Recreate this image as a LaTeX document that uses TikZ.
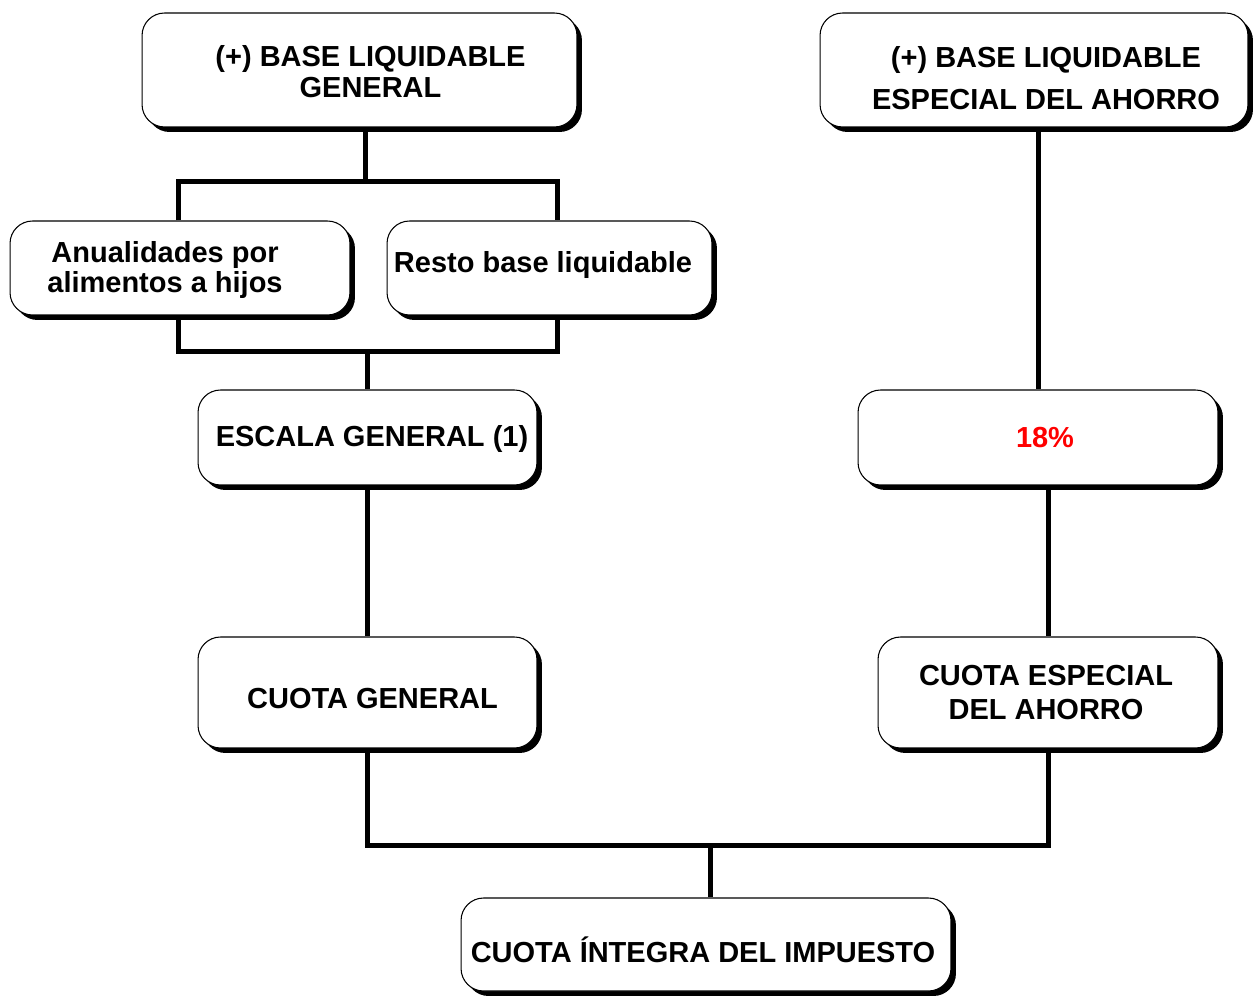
\documentclass[tikz,border=0pt]{standalone}
\usepackage{fontspec}
\setmainfont{Liberation Sans}
\usetikzlibrary{shadows}

\tikzset{
	caja/.style={draw=black, line width=0.6pt, fill=white, rounded corners=0.45cm,
		drop shadow={shadow xshift=0.1cm, shadow yshift=-0.1cm, fill=black, opacity=1},
		inner sep=0pt},
	texto/.style={align=center, inner sep=0pt, font=\bfseries\fontsize{16.5}{17.6}\selectfont},
	linea/.style={line width=0.1cm}
}

\begin{document}
\begin{tikzpicture}[x=0.02cm, y=-0.02cm]
	\useasboundingbox (0,0) rectangle (1253,996);
	%top boxes
	\node[caja, minimum width=8.7cm, minimum height=2.28cm,
		label={[texto, shift={(11,2)}]center:(+) BASE LIQUIDABLE\\GENERAL}] (bgen) at (359.5,70) {};
	\node[caja, minimum width=8.56cm, minimum height=2.28cm,
		label={[texto, shift={(12,8)}]center:(+) BASE LIQUIDABLE\\[0.22cm]ESPECIAL DEL AHORRO}] (besp) at (1034,70) {};
	%split boxes
	\node[caja, minimum width=6.8cm, minimum height=1.88cm,
		label={[texto, shift={(-15,2)}]center:Anualidades por\\alimentos a hijos}] (anual) at (180,268) {};
	\node[caja, minimum width=6.5cm, minimum height=1.88cm,
		label={[texto, shift={(-6.5,-3)}]center:Resto base liquidable}] (resto) at (549.5,268) {};
	%rates
	\node[caja, minimum width=6.78cm, minimum height=1.9cm,
		label={[texto, shift={(4.5,2)}]center:ESCALA GENERAL (1)}] (escala) at (367.5,437.5) {};
	\node[caja, minimum width=7.2cm, minimum height=1.9cm,
		label={[texto, text=red, shift={(7,0)}]center:18\%}] (tipo) at (1038,437.5) {};
	%quotas
	\node[caja, minimum width=6.78cm, minimum height=2.22cm,
		label={[texto, shift={(5,6)}]center:CUOTA GENERAL}] (cgen) at (367.5,692.5) {};
	\node[caja, minimum width=6.8cm, minimum height=2.22cm,
		label={[texto, shift={(-2,0)}]center:CUOTA ESPECIAL\\[0.08cm]DEL AHORRO}] (cesp) at (1048,692.5) {};
	%total
	\node[caja, minimum width=9.8cm, minimum height=1.86cm,
		label={[texto, shift={(-3,5)}]center:CUOTA ÍNTEGRA DEL IMPUESTO}] (cint) at (706,944.5) {};

	%junctions
	\coordinate (ramaA) at (365,182);
	\coordinate (izq) at (178,182);
	\coordinate (der) at (557,182);
	\coordinate (izqB) at (178,352);
	\coordinate (derB) at (557,352);
	\coordinate (union) at (710,845);

	%left branch
	\draw[linea] (bgen.south -| ramaA) -- (ramaA);
	\draw[linea] (izq |- anual.north) -- (izq) -- (der) -- (der |- resto.north);
	\draw[linea] (izq |- anual.south) -- (izqB) -- (derB) -- (der |- resto.south);
	\draw[linea] (escala.north |- derB) -- (escala.north);
	\draw[linea] (escala.south) -- (cgen.north);
	%right branch
	\draw[linea] (besp.south -| tipo.north) -- (tipo.north);
	\draw[linea] (tipo.south -| cesp.north) -- (cesp.north);
	%bottom
	\draw[linea] (cgen.south) -- (cgen.south |- union) -- (cesp.south |- union) -- (cesp.south);
	\draw[linea] (union) -- (union |- cint.north);
\end{tikzpicture}
\end{document}
